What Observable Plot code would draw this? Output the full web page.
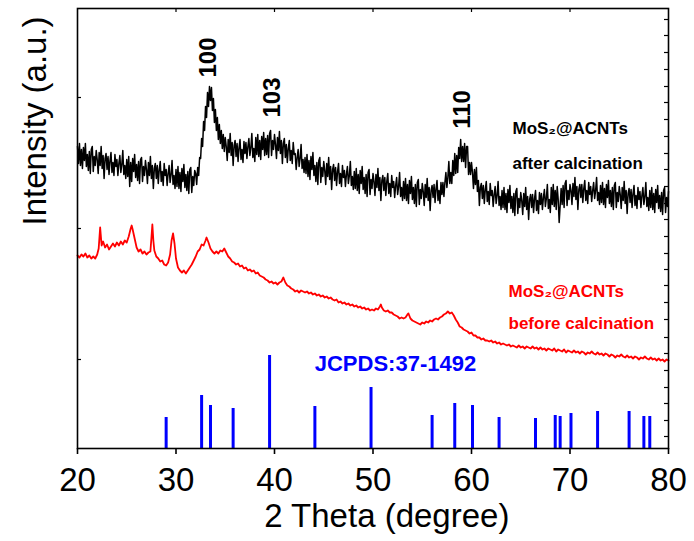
<!DOCTYPE html>
<html>
<head>
<meta charset="utf-8">
<script src="https://cdn.jsdelivr.net/npm/d3@7"></script>
<script src="https://cdn.jsdelivr.net/npm/@observablehq/plot@0.6"></script>
<style>
  body { margin: 0; background: #fff; }
  #chart svg { display: block; }
</style>
</head>
<body>
<div id="chart"></div>
<script>
// ---- Data (2θ in degrees, intensity in arbitrary units) ----
const blackStart = 20, blackStep = 0.1;
// MoS2@ACNTs after calcination, 20.0 .. 80.0 step 0.1
const afterCalcination = [
302,285,305,283,299,280,301,288,305,282,
294,278,297,275,299,302,277,292,283,298,
289,275,296,283,302,280,293,270,290,295,
279,292,274,288,296,276,286,273,294,282,
289,273,285,293,276,284,298,274,283,270,
289,272,292,262,286,267,290,277,294,271,
284,268,287,265,289,291,267,282,273,288,
279,265,286,273,292,270,283,260,280,285,
270,283,265,279,287,267,277,263,285,273,
279,263,275,283,266,274,288,264,273,260,
279,262,282,260,276,257,280,267,284,261,
274,258,277,255,279,281,256,272,263,278,
275,264,281,273,291,290,
310,302,327,318,342,331,356,342,362,348,361,338,350,326,339,318,331,309,324,305,318,300,314,297,311,
302,288,309,296,315,293,306,283,303,308,
292,305,287,301,309,289,299,286,307,295,
306,290,302,310,293,301,315,291,300,287,
311,294,314,292,308,289,312,299,316,293,
310,294,313,291,315,318,293,308,299,314,
304,290,311,298,317,295,308,285,305,310,
291,304,286,300,308,288,298,285,306,294,
295,279,291,299,282,290,304,280,289,276,
291,275,294,272,288,269,292,279,296,273,
283,267,286,264,288,291,266,281,272,287,
278,264,285,272,291,269,282,259,279,284,
268,281,263,277,285,265,275,262,283,271,
278,262,274,282,265,273,287,263,272,259,
277,260,280,258,274,255,278,265,282,259,
271,255,274,252,276,279,254,269,260,275,
267,253,274,261,280,258,271,248,268,273,
258,271,253,267,275,255,265,252,273,261,
267,251,263,271,254,262,276,252,261,248,
267,250,270,248,264,245,268,255,272,249,
261,245,264,242,266,269,244,259,250,265,
257,243,264,251,270,248,261,238,258,263,
251,264,246,260,268,248,258,245,266,254,
266,252,266,276,261,271,287,265,276,265,
288,273,295,275,293,276,301,290,309,287,
302,287,305,281,302,302,274,286,274,286,
276,260,279,264,281,257,268,243,261,265,
250,263,245,259,267,247,257,244,265,253,
258,242,254,262,245,253,267,243,252,239,
258,241,261,239,255,236,259,246,263,240,
252,236,255,233,257,260,235,250,241,256,
248,234,255,242,261,239,252,229,249,254,
241,254,236,250,258,238,248,235,256,244,
255,239,251,259,242,250,264,240,249,236,
261,244,264,242,258,239,262,249,226,243,
260,244,263,241,265,268,243,258,249,264,
258,244,265,252,271,249,262,239,259,264,
251,264,246,260,268,248,258,245,266,254,
262,247,258,266,250,258,271,248,256,244,
263,246,266,244,260,241,264,251,268,245,
258,242,261,239,263,266,241,256,247,262,
254,240,261,248,267,245,258,235,255,260,
246,259,241,255,263,243,253,240,261,249,
257,241,253,261,244,252,266,242,251,238,
258,241,261,239,255,236,259,246,263,240,
253,237,256,234,258,261,236,251,242,257
];

// MoS2@ACNTs before calcination: [2θ, intensity]
const beforeCalcination = [
[20.0,193],[20.2,191],[20.4,194],[20.6,192],[20.8,195],[21.0,191],[21.2,193],[21.4,190],[21.6,192],[21.8,190],
[22.0,194],[22.15,200],[22.3,221],[22.45,203],[22.6,207],[22.8,201],[23.0,204],[23.2,199],[23.4,202],[23.6,205],
[23.8,202],[24.0,206],[24.2,203],[24.4,207],[24.6,204],[24.8,208],[25.0,206],[25.2,212],[25.4,220],[25.5,223],
[25.6,219],[25.8,210],[26.0,201],[26.2,197],[26.4,199],[26.6,195],[26.8,197],[27.0,194],[27.2,196],[27.4,197],
[27.5,210],[27.6,224],[27.7,208],[27.8,198],[28.0,192],[28.2,190],[28.4,187],[28.6,188],[28.8,184],[29.0,183],
[29.2,186],[29.4,194],[29.55,208],[29.7,215],[29.85,205],[30.0,190],[30.2,181],[30.4,178],[30.6,176],[30.8,178],
[31.0,175],[31.2,178],[31.4,181],[31.6,184],[31.8,188],[32.0,192],[32.2,197],[32.4,199],[32.6,204],[32.8,203],
[33.0,208],[33.1,211],[33.3,206],[33.5,200],[33.7,197],[33.9,195],[34.1,197],[34.3,195],[34.5,198],[34.7,197],
[34.9,200],[35.1,196],[35.3,192],[35.5,190],[35.7,187],[35.9,186],[36.1,184],[36.3,185],[36.5,182],[36.7,183],
[36.9,180],[37.1,181],[37.3,178],[37.5,179],[37.7,177],[37.9,178],[38.1,175],[38.3,176],[38.5,173],[38.7,172],
[38.9,171],[39.1,169],[39.3,168],[39.5,166],[39.7,167],[39.9,165],[40.1,166],[40.3,164],[40.5,166],[40.7,167],
[40.9,171],[41.1,166],[41.3,163],[41.5,162],[41.7,160],[41.9,159],[42.1,157],[42.3,158],[42.5,156],[42.7,158],
[42.9,157],[43.1,156],[43.3,157],[43.5,155],[43.7,156],[43.9,154],[44.1,155],[44.3,153],[44.5,154],[44.7,152],
[44.9,153],[45.1,151],[45.3,152],[45.5,150],[45.7,151],[45.9,149],[46.1,148],[46.3,149],[46.5,146],[46.7,147],
[46.9,145],[47.1,146],[47.3,144],[47.5,145],[47.7,143],[47.9,144],[48.1,142],[48.3,143],[48.5,141],[48.7,142],
[48.9,140],[49.1,141],[49.3,139],[49.5,140],[49.7,138],[49.9,139],[50.1,138],[50.3,140],[50.5,139],[50.7,142],
[50.8,144],[50.9,141],[51.1,138],[51.3,137],[51.5,138],[51.7,136],[51.9,136],[52.1,134],[52.3,133],[52.5,132],
[52.7,130],[52.9,131],[53.1,130],[53.3,131],[53.5,134],[53.6,135],[53.8,130],[54.0,128],[54.2,127],[54.4,126],
[54.6,125],[54.8,124],[55.0,126],[55.2,125],[55.4,127],[55.6,126],[55.8,128],[56.0,127],[56.2,129],[56.4,130],
[56.6,129],[56.8,131],[57.0,132],[57.2,134],[57.4,135],[57.6,137],[57.8,135],[58.0,136],[58.2,133],[58.4,129],
[58.6,126],[58.8,122],[59.0,121],[59.2,119],[59.4,118],[59.6,117],[59.8,115],[60.0,116],[60.2,113],[60.4,113],
[60.6,111],[60.8,111],[61.0,109],[61.2,110],[61.4,108],[61.6,108],[61.8,107],[62.0,108],[62.2,106],[62.4,107],
[62.6,105],[62.8,106],[63.0,104],[63.2,105],[63.4,104],[63.6,103],[63.8,104],[64.0,102],[64.2,103],[64.4,102],
[64.6,101],[64.8,103],[65.0,101],[65.2,102],[65.4,100],[65.6,102],[65.8,101],[66.0,100],[66.2,102],[66.4,100],
[66.6,101],[66.8,99],[67.0,101],[67.2,99],[67.4,100],[67.6,98],[67.8,100],[68.0,99],[68.2,98],[68.4,100],
[68.6,97],[68.8,99],[69.0,98],[69.2,97],[69.4,99],[69.6,96],[69.8,98],[70.0,97],[70.2,96],[70.4,98],
[70.6,96],[70.8,97],[71.0,95],[71.2,97],[71.4,96],[71.6,94],[71.8,96],[72.0,95],[72.2,97],[72.4,95],
[72.6,94],[72.8,96],[73.0,94],[73.2,95],[73.4,93],[73.6,95],[73.8,94],[74.0,92],[74.2,94],[74.4,93],
[74.6,91],[74.8,93],[75.0,92],[75.2,94],[75.4,92],[75.6,91],[75.8,93],[76.0,91],[76.2,92],[76.4,90],
[76.6,92],[76.8,91],[77.0,89],[77.2,91],[77.4,90],[77.6,92],[77.8,90],[78.0,89],[78.2,91],[78.4,89],
[78.6,90],[78.8,88],[79.0,90],[79.2,88],[79.4,89],[79.6,87],[79.8,89],[80.0,88]
];

// JCPDS 37-1492 reference lines
const jcpdsPos = [29.0, 32.6, 33.5, 35.8, 39.5, 44.1, 49.8, 56.0, 58.3, 60.1, 62.8, 66.5, 68.5, 69.0, 70.1, 72.8, 76.0, 77.5, 78.1];
const jcpdsInt = [31, 53, 43, 40, 93, 42, 61, 33, 45, 43, 31, 30, 33, 32, 35, 37, 37, 32, 32];

// Peak indices (hkl)
const peakLabels = ["100", "103", "110"];
const peakX = [33.3, 39.8, 59.05];
const peakY = [391, 351, 339];

// Axes
const xTicks = [20, 30, 40, 50, 60, 70, 80];
const xTopTicks = [30, 40, 50, 60, 70];
const yLeftTicks = [89, 220, 351];
const yRightTicks = [12, 28, 45, 61, 78, 95, 111, 129, 146, 163, 179, 195, 212, 229, 245, 262, 279, 295, 312, 329, 346, 362, 379, 396, 413, 429];

// ---- Build tables ----
const blackData = afterCalcination.map((v, i) => ({x: blackStart + i * blackStep, y: v}));
const redData = beforeCalcination.map(([x, y]) => ({x, y}));
const jcpds = jcpdsPos.map((p, i) => ({x: p, h: jcpdsInt[i]}));
const peaks = peakLabels.map((t, i) => ({t, x: peakX[i], y: peakY[i]}));

const font = "'Liberation Sans', Arial, Helvetica, sans-serif";

const chart = Plot.plot({
  width: 694,
  height: 541,
  marginLeft: 77,
  marginRight: 26,
  marginTop: 8,
  marginBottom: 93,
  style: {fontFamily: font, background: "#fff", color: "#000"},
  x: {domain: [20, 80]},
  y: {domain: [0, 440], axis: null},
  marks: [
    Plot.ruleX(jcpds, {x: "x", y1: 0, y2: "h", stroke: "#0000ff", strokeWidth: 3}),
    Plot.line(redData, {x: "x", y: "y", stroke: "#ff0000", strokeWidth: 1.8}),
    Plot.line(blackData, {x: "x", y: "y", stroke: "#000", strokeWidth: 1.5}),
    Plot.frame({stroke: "#000", strokeWidth: 1.6}),
    Plot.axisX({anchor: "bottom", ticks: xTicks, tickSize: 6, tickPadding: 13, fontSize: 33, label: null, tickFormat: d => String(d), strokeWidth: 1.6}),
    Plot.ruleX(xTopTicks, {x: d => d, insetBottom: 436, stroke: "#000", strokeWidth: 1.2}),
    Plot.ruleY(yLeftTicks, {y: d => d, insetRight: 587, stroke: "#000", strokeWidth: 1.2}),
    Plot.ruleY(yRightTicks, {y: d => d, insetLeft: 587, stroke: "#000", strokeWidth: 1.2}),
    Plot.text(peaks, {x: "x", y: "y", text: "t", rotate: -90, fontSize: 24, fontWeight: "bold", fill: "#000"}),
    Plot.text(["MoS₂@ACNTs", "after calcination"], {x: [64.16, 64.16], y: [320, 285], text: d => d, textAnchor: "start", fontSize: 17, fontWeight: "bold", fill: "#000"}),
    Plot.text(["MoS₂@ACNTs", "before calcination"], {x: [63.76, 63.76], y: [157, 125], text: d => d, textAnchor: "start", fontSize: 17, fontWeight: "bold", fill: "#ff0000"}),
    Plot.text(["JCPDS:37-1492"], {x: [52.28], y: [85], text: d => d, fontSize: 22, fontWeight: "bold", fill: "#0000ff"}),
    Plot.text(["2 Theta (degree)"], {x: [51.4], frameAnchor: "bottom", dy: 78, text: d => d, fontSize: 33, fill: "#000"}),
    Plot.text(["Intensity (a.u.)"], {y: [223], frameAnchor: "left", dx: -42, rotate: -90, text: d => d, fontSize: 33, fill: "#000"})
  ]
});
document.getElementById("chart").appendChild(chart);
</script>
</body>
</html>
